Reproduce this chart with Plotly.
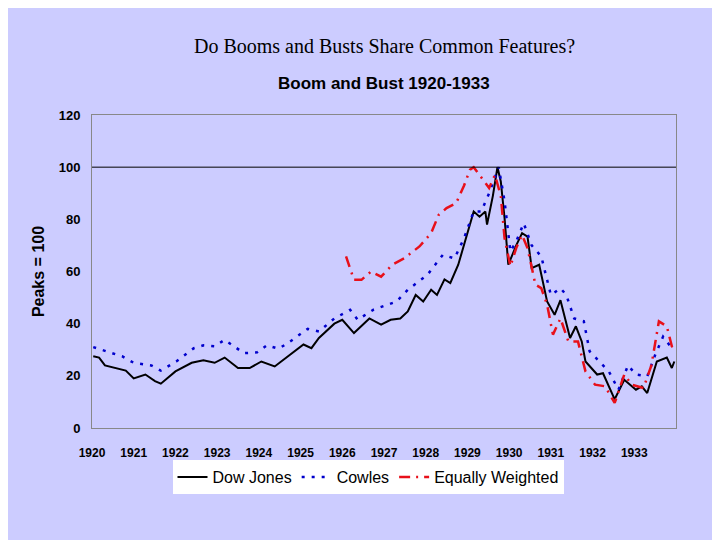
import plotly.graph_objects as go

dow_t = [0.03,0.17,0.31,0.81,1.0,1.28,1.51,1.65,2.0,2.39,2.67,2.94,3.18,3.5,3.78,4.06,4.38,4.7,5.07,5.26,5.44,5.81,6.0,6.28,6.65,6.93,7.16,7.39,7.57,7.76,7.94,8.13,8.27,8.45,8.59,8.78,8.92,9.15,9.29,9.43,9.47,9.61,9.72,9.8,9.89,9.98,10.17,10.31,10.44,10.54,10.72,10.91,11.09,11.23,11.46,11.6,11.74,11.83,12.11,12.25,12.53,12.76,13.04,13.18,13.31,13.54,13.78,13.9,13.96]
dow_v = [27.5,27,24,22,19,20.5,18,17,21.7,25,26,25,27,23,23,25.5,23.6,27.5,32,30.6,34.5,40,41.5,36.4,42,39.6,41.5,42,44.7,51,48.5,53,51,57,55.6,62.6,70,83,81,83,78,89,100,94.5,80.5,62.6,70,74.7,73.4,61.3,62.6,48.5,43.4,49,34.5,39,33.2,25.5,20.5,21,11,18.5,14.7,16,13.4,25.5,27,23,25.5]

cow_t = [0.03,0.72,1.0,1.42,1.65,2.02,2.44,2.67,2.94,3.18,3.64,3.96,4.19,4.47,4.7,5.17,5.44,5.81,6.19,6.37,6.74,7.11,7.3,7.57,8.04,8.41,8.69,8.92,9.15,9.33,9.52,9.75,9.89,10.03,10.17,10.35,10.54,10.77,11.0,11.23,11.37,11.56,11.79,11.93,12.16,12.39,12.62,12.85,13.04,13.31,13.5,13.69,13.9,13.96]
cow_v = [31,27.5,25,24,22,25.5,30.6,31.7,31.3,33.8,28.7,29,31.7,30.4,32.6,38,37,42,45.3,41.5,45.3,47.3,48.5,53,58.7,66.4,65,72.8,83,83,90,100,87,67.7,71.5,78.5,70,65.8,51,53.6,51,42,40.9,29.4,25.5,21.7,14.7,24,20.5,19.8,28,35,30.6,30.6]

ew_t = [6.09,6.28,6.46,6.69,6.93,7.2,7.48,7.85,8.13,8.31,8.5,8.73,8.92,9.06,9.15,9.33,9.52,9.66,9.8,9.89,10.03,10.17,10.31,10.44,10.63,10.77,10.91,11.05,11.23,11.42,11.65,11.83,12.06,12.3,12.53,12.76,12.94,13.22,13.41,13.59,13.78,13.9,13.96]
ew_v = [65.8,56.8,56.8,60,58,62.6,65,69.6,74.7,81.7,84.3,86.2,93,99,100,96,92,97,89,72.8,62,69,74,69,55,53.6,47.3,35.8,42,33.2,33.2,21.7,16.6,16,9.6,20.5,16.6,15.3,24,40.9,39,31.3,30.6]

years = list(range(1920, 1934))

fig = go.Figure()
fig.add_trace(go.Scatter(x=[1920 + t for t in dow_t], y=dow_v, name="Dow Jones", mode="lines",
                         line=dict(color="black", width=2)))
fig.add_trace(go.Scatter(x=[1920 + t for t in cow_t], y=cow_v, name="Cowles", mode="lines",
                         line=dict(color="#0000cc", width=2.5, dash="3px,7px")))
fig.add_trace(go.Scatter(x=[1920 + t for t in ew_t], y=ew_v, name="Equally Weighted", mode="lines",
                         line=dict(color="#e8101a", width=2.5, dash="11px,6px,2px,6px")))
fig.add_hline(y=100, line=dict(color="black", width=1))

bg = "#ccccff"
fig.update_layout(
    width=720, height=540, paper_bgcolor=bg, plot_bgcolor=bg,
    margin=dict(l=84, r=52, t=107, b=120, autoexpand=False),
    showlegend=True,
    legend=dict(orientation="h", x=0.5, xanchor="center", xref="container",
                y=1 - 452 / 540, yanchor="top", yref="container",
                bgcolor="white", font=dict(family="Liberation Sans, Arial", size=16, color="black"),
                itemwidth=30, tracegroupgap=0),
    annotations=[
        dict(text="Do Booms and Busts Share Common Features?", x=0.5, xref="paper", yref="paper",
             y=1.0 + (107 - 38) / 313, yanchor="middle",
             showarrow=False, font=dict(family="Liberation Serif, Times New Roman", size=20, color="black")),
        dict(text="<b>Boom and Bust 1920-1933</b>", x=0.5, xref="paper", yref="paper",
             y=1.0 + (107 - 75) / 313, yanchor="middle",
             showarrow=False, font=dict(family="Liberation Sans, Arial", size=17, color="black")),
    ],
    xaxis=dict(range=[1920, 1934], tickvals=years, ticktext=[str(y) for y in years],
               showgrid=False, zeroline=False, ticks="", showline=True, linecolor="#888888", mirror=True,
               automargin=False, ticklabelstandoff=14,
               tickfont=dict(family="Liberation Sans, Arial", size=12, color="black", weight="bold")),
    yaxis=dict(range=[0, 120], dtick=20, showgrid=False, zeroline=False, showline=True,
               linecolor="#888888", mirror=True, ticks="", automargin=False, ticklabelstandoff=8,
               title=dict(text="<b>Peaks = 100</b>", font=dict(family="Liberation Sans, Arial", size=16, color="black"), standoff=10),
               tickfont=dict(family="Liberation Sans, Arial", size=13, color="black", weight="bold")),
)
fig.write_html("out.html")
